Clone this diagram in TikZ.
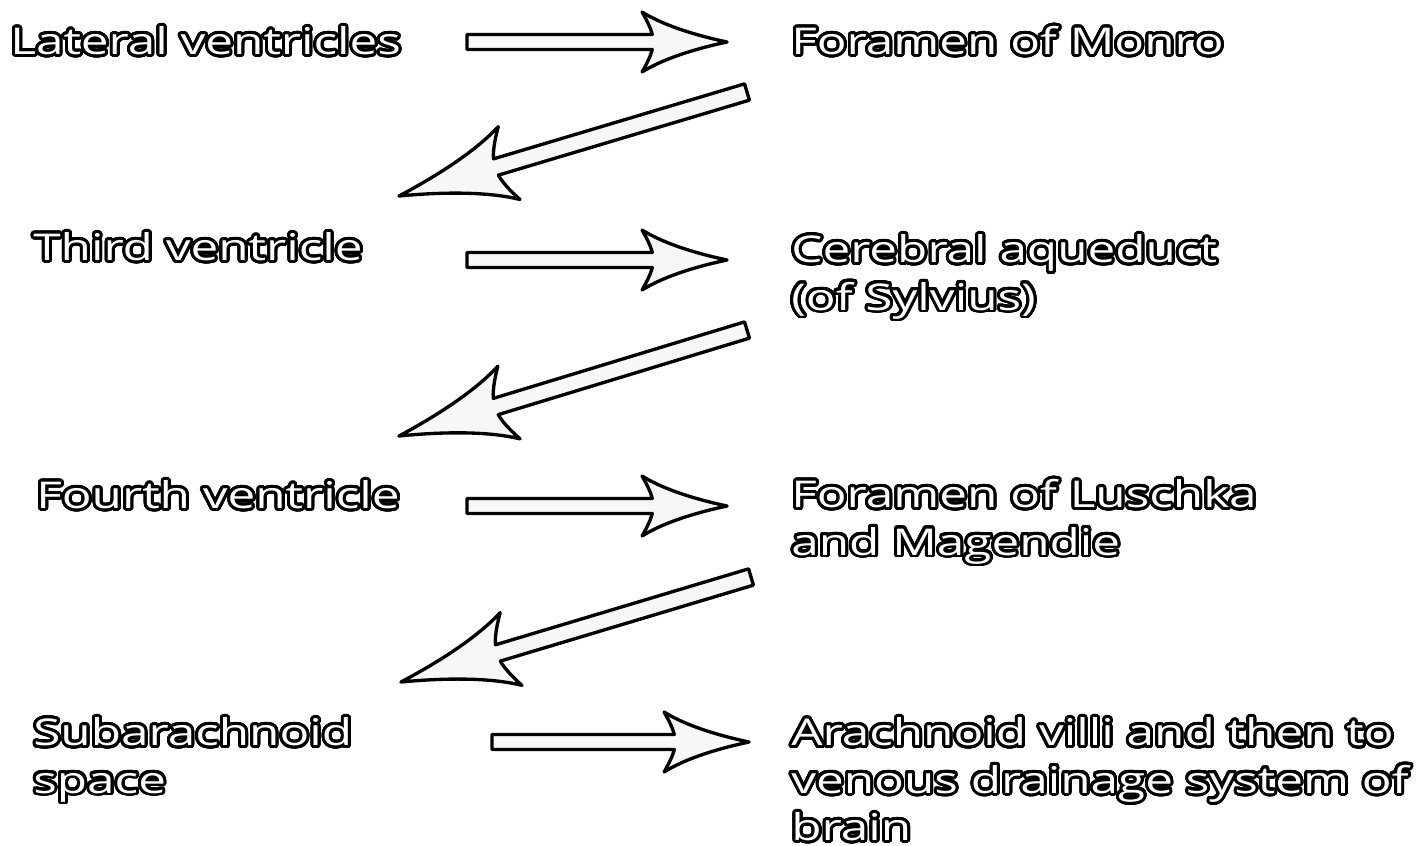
\documentclass[tikz,border=0pt]{standalone}
\usepackage{fontspec}
\setmainfont{Open Sans}[FakeStretch=1.34]
\usepackage[copies]{contour}
\contourlength{1.7pt}
\contournumber{32}
\usetikzlibrary{calc}
\definecolor{arrowfill}{RGB}{248,246,246}
\newcommand{\outl}[1]{\contour{black}{#1}}
\newcommand{\cfarrow}[5]{
	\path let \p1=($(#2)-(#1)$) in \pgfextra{%
		\pgfmathsetmacro\cfa{atan2(\y1,\x1)}\global\let\cfang\cfa
		\pgfmathsetmacro\cfl{veclen(\x1,\y1)/0.569055}\global\let\cflen\cfl};
	\begin{scope}[shift={(#1)},rotate=\cfang,x=0.02cm,y=0.02cm]
		\draw[hollow] (0,#5) -- ({\cflen-0.88*#3},#5)
			.. controls ({\cflen-0.9*#3},{0.5*#4}) and ({\cflen-0.97*#3},{0.85*#4}) .. ({\cflen-#3},#4)
			.. controls ({\cflen-0.72*#3},{0.5*#4}) and ({\cflen-0.3*#3},{0.18*#4}) .. (\cflen,0)
			.. controls ({\cflen-0.3*#3},{-0.18*#4}) and ({\cflen-0.72*#3},{-0.5*#4}) .. ({\cflen-#3},-#4)
			.. controls ({\cflen-0.97*#3},{-0.85*#4}) and ({\cflen-0.9*#3},{-0.5*#4}) .. ({\cflen-0.88*#3},-#5)
			-- (0,-#5) -- cycle;
	\end{scope}
}
\tikzset{
	csftext/.style={text=white,font=\fontsize{21}{27}\selectfont,inner sep=0pt,align=left,anchor=base west},
	hollow/.style={draw=black,line width=1.9pt,fill=arrowfill,line join=round}
}

\begin{document}
\begin{tikzpicture}[x=0.02cm,y=-0.02cm]
	\useasboundingbox[fill=white] (0,0) rectangle (1426,845);
	\node (lat) at (10,54.5) [csftext] {\outl{Lateral ventricles}};
	\node (monro) at (791,54.5) [csftext] {\outl{Foramen of Monro}};
	\node (third) at (33,260.5) [csftext] {\outl{Third ventricle}};
	\node (aqueduct) at (791,310) [csftext] {\outl{Cerebral aqueduct}\\\outl{(of Sylvius)}};
	\node (fourth) at (36,508.5) [csftext] {\outl{Fourth ventricle}};
	\node (luschka) at (791,555) [csftext] {\outl{Foramen of Luschka}\\\outl{and Magendie}};
	\node (subarach) at (33,793) [csftext] {\outl{Subarachnoid}\\\outl{space}};
	\node (villi) at (791,840.5) [csftext] {\outl{Arachnoid villi and then to}\\\outl{venous drainage system of}\\\outl{brain}};
	\coordinate (h1s) at (467,42);
	\coordinate (h1e) at (727,42);
	\coordinate (d1s) at (747,92);
	\coordinate (d1e) at (399,196);
	\coordinate (h2s) at (467,260);
	\coordinate (h2e) at (727,260);
	\coordinate (d2s) at (747,330);
	\coordinate (d2e) at (399,436);
	\coordinate (h3s) at (467,506);
	\coordinate (h3e) at (727,506);
	\coordinate (d3s) at (751,577);
	\coordinate (d3e) at (401,682);
	\coordinate (h4s) at (492,742);
	\coordinate (h4e) at (749,742);
	\cfarrow{h1s}{h1e}{85}{30}{7.5}
	\cfarrow{d1s}{d1e}{115}{38}{8.5}
	\cfarrow{h2s}{h2e}{85}{30}{7.5}
	\cfarrow{d2s}{d2e}{115}{38}{8.5}
	\cfarrow{h3s}{h3e}{85}{30}{7.5}
	\cfarrow{d3s}{d3e}{115}{38}{8.5}
	\cfarrow{h4s}{h4e}{85}{30}{7.5}
\end{tikzpicture}
\end{document}
